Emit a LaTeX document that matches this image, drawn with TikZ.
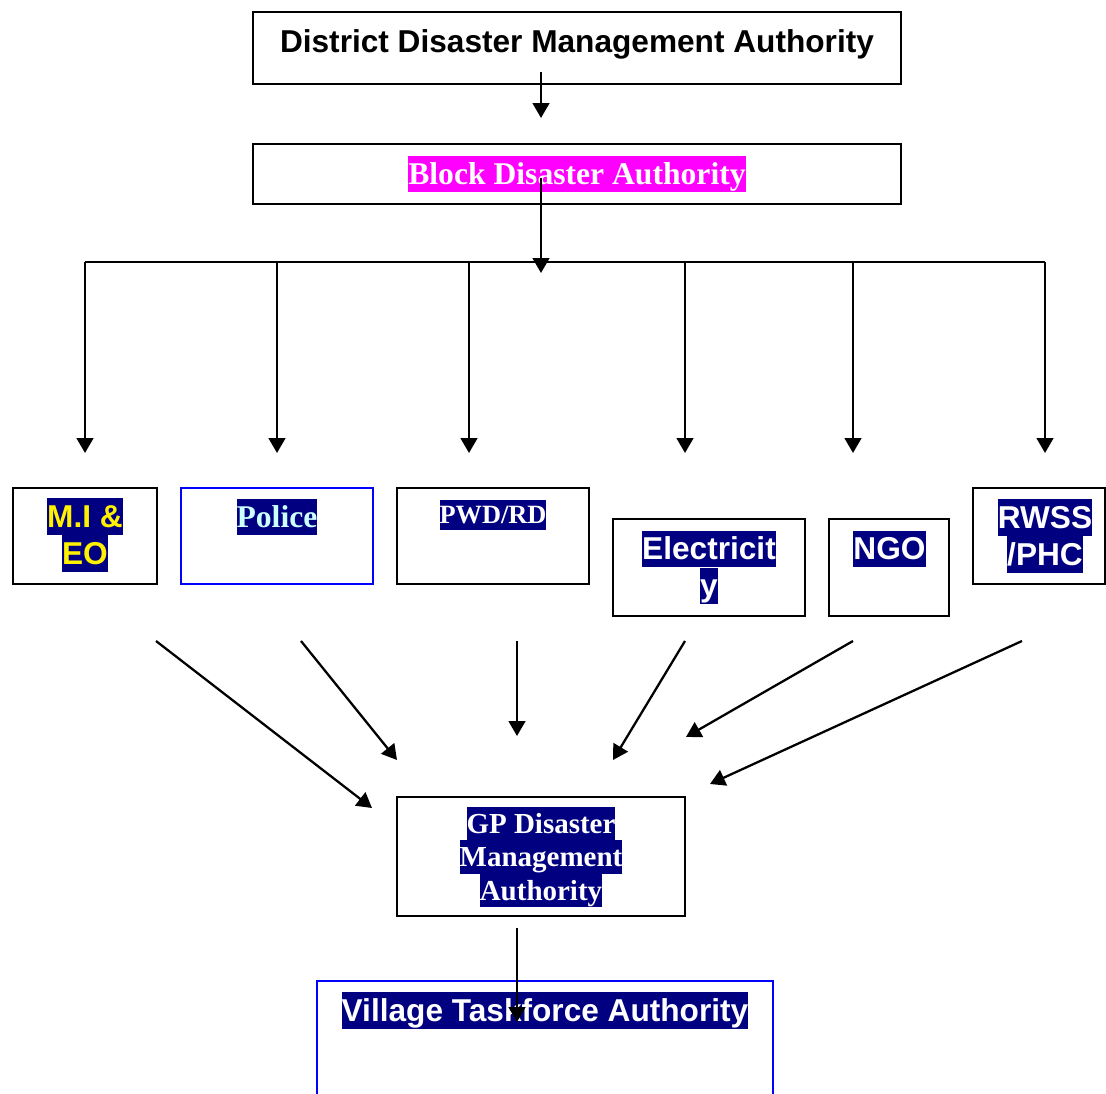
\documentclass[tikz,border=0pt]{standalone}
\usepackage{fontspec}
\setmainfont{Liberation Serif}
\setsansfont{Liberation Sans}
\usetikzlibrary{arrows.meta}

\definecolor{navy}{RGB}{0,0,128}
\definecolor{lightcyan}{RGB}{204,255,255}
\definecolor{pureblue}{RGB}{0,0,255}
\definecolor{puremagenta}{RGB}{255,0,255}

% 文字底色
\newcommand{\hl}[3]{{\setlength{\fboxsep}{0pt}\colorbox{#1}{\rule[-0.24em]{0pt}{1.15em}\textcolor{#2}{#3}}}}

\tikzset{
    box/.style={draw, line width=1.2pt, inner sep=0pt},
    bluebox/.style={box, draw=pureblue},
    arr/.style={line width=1.3pt, -{Triangle[length=8.5pt,width=9.5pt]}},
    txt/.style={inner sep=0pt, align=center, font=\sffamily\bfseries\fontsize{18}{21}\selectfont},
    serif/.style={font=\rmfamily\bfseries\fontsize{18}{21}\selectfont},
}

\begin{document}
\begin{tikzpicture}[x=0.02cm, y=-0.02cm]
        \useasboundingbox (0,0) rectangle (1106,1094);
        \clip (0,0) rectangle (1106,1094);

        % 上两层
        \node [box, minimum width=12.96cm, minimum height=1.44cm] (ddma) at (577,48) {};
        \node [txt] (ddma-t) at (577,44) {District Disaster Management Authority};
        \node [box, minimum width=12.96cm, minimum height=1.2cm] (block) at (577,174) {};
        \node [txt, serif] (block-t) at (577,174) {\hl{puremagenta}{white}{Block Disaster Authority}};

        % 各部门
        \node [box, minimum width=2.88cm, minimum height=1.92cm] (mieo) at (85,536) {};
        \node [txt] (mieo-t) at (85,535) {\hl{navy}{yellow}{M.I \&}\\\hl{navy}{yellow}{EO}};
        \node [bluebox, minimum width=3.84cm, minimum height=1.92cm] (police) at (277,536) {};
        \node [txt, serif] (police-t) at (277,517) {\hl{navy}{lightcyan}{Police}};
        \node [box, minimum width=3.84cm, minimum height=1.92cm] (pwd) at (493,536) {};
        \node [txt, font=\rmfamily\bfseries\fontsize{15}{17.5}\selectfont] (pwd-t) at (493,515) {\hl{navy}{white}{PWD/RD}};
        \node [box, minimum width=3.84cm, minimum height=1.94cm] (elec) at (709,567.5) {};
        \node [txt] (elec-t) at (709,567.5) {\hl{navy}{white}{Electricit}\\\hl{navy}{white}{y}};
        \node [box, minimum width=2.4cm, minimum height=1.94cm] (ngo) at (889,567.5) {};
        \node [txt] (ngo-t) at (889.5,549) {\hl{navy}{white}{NGO}};
        \node [box, minimum width=2.64cm, minimum height=1.92cm] (rwss) at (1039,536) {};
        \node [txt] (rwss-t) at (1045,536) {\hl{navy}{white}{RWSS}\\\hl{navy}{white}{/PHC}};

        % 下两层
        \node [box, minimum width=5.76cm, minimum height=2.38cm] (gp) at (541,856.5) {};
        \node [txt, font=\rmfamily\bfseries\fontsize{16.5}{19}\selectfont] (gp-t) at (541,857)
            {\hl{navy}{white}{GP Disaster}\\\hl{navy}{white}{Management}\\\hl{navy}{white}{Authority}};
        \node [bluebox, minimum width=9.12cm, minimum height=2.58cm] (village) at (545,1045.5) {};
        \node [txt] (village-t) at (545,1010.5) {\hl{navy}{white}{Village Taskforce Authority}};

        % 箭头端点
        \coordinate (ddma-out) at (541,72);
        \coordinate (block-in) at (541,118);
        \coordinate (block-out) at (541,178);
        \coordinate (bus-in) at (541,273);
        \coordinate (bus-l) at (85,262);
        \coordinate (bus-r) at (1045,262);
        \coordinate (gp-out) at (517,928);
        \coordinate (village-in) at (517,1022);

        % 上层箭头
        \draw [arr] (ddma-out) -- (block-in);
        \draw [arr] (block-out) -- (bus-in);
        \draw [line width=1.3pt] (bus-l) -- (bus-r);

        % 分支箭头
        \coordinate (mieo-top) at (85,262);
        \coordinate (mieo-in) at (85,453);
        \coordinate (police-top) at (277,262);
        \coordinate (police-in) at (277,453);
        \coordinate (pwd-top) at (469,262);
        \coordinate (pwd-in) at (469,453);
        \coordinate (elec-top) at (685,262);
        \coordinate (elec-in) at (685,453);
        \coordinate (ngo-top) at (853,262);
        \coordinate (ngo-in) at (853,453);
        \coordinate (rwss-top) at (1045,262);
        \coordinate (rwss-in) at (1045,453);
        \draw [arr] (mieo-top) -- (mieo-in);
        \draw [arr] (police-top) -- (police-in);
        \draw [arr] (pwd-top) -- (pwd-in);
        \draw [arr] (elec-top) -- (elec-in);
        \draw [arr] (ngo-top) -- (ngo-in);
        \draw [arr] (rwss-top) -- (rwss-in);

        % 汇到GP的箭头
        \coordinate (mieo-out) at (156,641);
        \coordinate (gp-in1) at (372,808);
        \coordinate (police-out) at (301,641);
        \coordinate (gp-in2) at (397,760);
        \coordinate (pwd-out) at (517,641);
        \coordinate (gp-in3) at (517,736);
        \coordinate (elec-out) at (685,641);
        \coordinate (gp-in4) at (613,760);
        \coordinate (ngo-out) at (853,641);
        \coordinate (gp-in5) at (686,737);
        \coordinate (rwss-out) at (1022,641);
        \coordinate (gp-in6) at (710,784);
        \draw [arr] (mieo-out) -- (gp-in1);
        \draw [arr] (police-out) -- (gp-in2);
        \draw [arr] (pwd-out) -- (gp-in3);
        \draw [arr] (elec-out) -- (gp-in4);
        \draw [arr] (ngo-out) -- (gp-in5);
        \draw [arr] (rwss-out) -- (gp-in6);

        % GP到村
        \draw [arr] (gp-out) -- (village-in);
\end{tikzpicture}
\end{document}
